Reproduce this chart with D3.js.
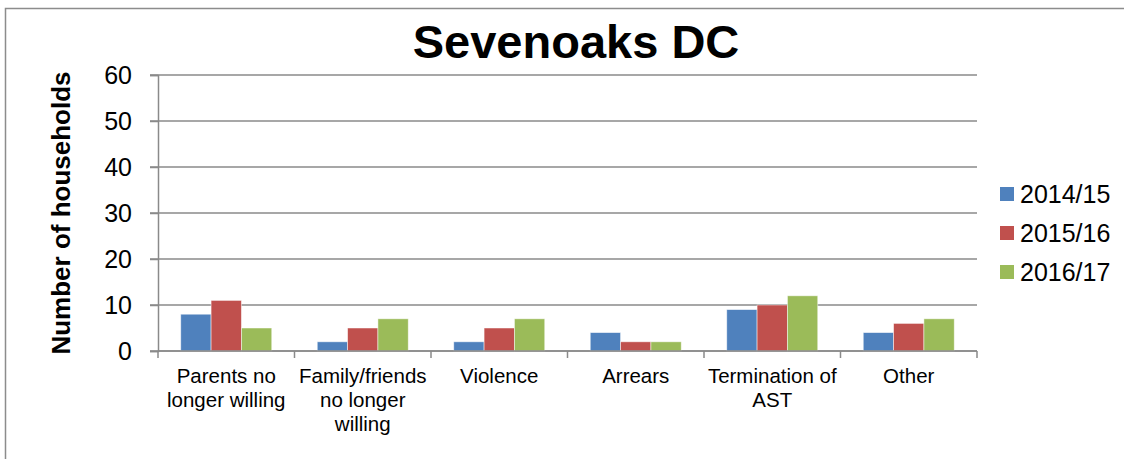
<!DOCTYPE html>
<html>
<head>
<meta charset="utf-8">
<script src="https://cdn.jsdelivr.net/npm/d3@7"></script>
<style>
  body { margin: 0; background: #fff; }
  svg { display: block; font-family: "Liberation Sans", Arial, sans-serif; }
</style>
</head>
<body>
<div id="wrapper"></div>
<script>
const categories = [`Parents no longer willing`, `Family/friends no longer willing`, `Violence`, `Arrears`, `Termination of AST`, `Other`];
const categoryLines = [
  [`Parents no`, `longer willing`],
  [`Family/friends`, `no longer`, `willing`],
  [`Violence`],
  [`Arrears`],
  [`Termination of`, `AST`],
  [`Other`],
];
const seriesNames = [`2014/15`, `2015/16`, `2016/17`];
const values201415 = [8, 2, 2, 4, 9, 4];
const values201516 = [11, 5, 5, 2, 10, 6];
const values201617 = [5, 7, 7, 2, 12, 7];
const yTicks = [0, 10, 20, 30, 40, 50, 60];
const seriesColors = [`#4F81BD`, `#C0504D`, `#9BBB59`];

const seriesValues = [values201415, values201516, values201617];
const rows = categories.map((c, i) => ({
  category: c,
  values: seriesNames.map((s, j) => ({series: s, value: seriesValues[j][i]})),
}));

const W = 1124, H = 459;
const margin = { top: 75, right: 147, bottom: 108, left: 158 };
const width = W - margin.left - margin.right;
const height = H - margin.top - margin.bottom;

const root = d3.select(`#wrapper`)
  .append(`svg`)
  .attr(`width`, W)
  .attr(`height`, H);

// outer chart border (left and top visible, rest cut off)
root.append(`rect`)
  .attr(`x`, 5.5)
  .attr(`y`, 8.5)
  .attr(`width`, W + 20)
  .attr(`height`, H + 20)
  .attr(`fill`, `none`)
  .attr(`stroke`, `#8c8c8c`)
  .attr(`stroke-width`, 1.5);

root.append(`text`)
  .attr(`x`, 576)
  .attr(`y`, 58)
  .attr(`text-anchor`, `middle`)
  .attr(`font-size`, 47)
  .attr(`font-weight`, `bold`)
  .text(`Sevenoaks DC`);

root.append(`text`)
  .attr(`transform`, `translate(70, ${margin.top + height / 2}) rotate(-90)`)
  .attr(`text-anchor`, `middle`)
  .attr(`font-size`, 26)
  .attr(`font-weight`, `bold`)
  .text(`Number of households`);

const svg = root.append(`g`)
  .attr(`transform`, `translate(${margin.left}, ${margin.top})`);

const x0 = d3.scaleBand()
  .domain(categories)
  .range([0, width])
  .paddingInner(0)
  .paddingOuter(0);

const x1 = d3.scaleBand()
  .domain(seriesNames)
  .range([0, x0.bandwidth()])
  .paddingInner(0)
  .paddingOuter(0.75);

const y = d3.scaleLinear()
  .domain([0, 60])
  .range([height, 0]);

const color = d3.scaleOrdinal()
  .domain(seriesNames)
  .range(seriesColors);

// gridlines
svg.append(`g`)
  .selectAll(`line`)
  .data(yTicks)
  .join(`line`)
  .attr(`x1`, -8)
  .attr(`x2`, width)
  .attr(`y1`, d => y(d))
  .attr(`y2`, d => y(d))
  .attr(`stroke`, `#8a8a8a`)
  .attr(`stroke-width`, 1.5);

// y axis
const yAxis = svg.append(`g`)
  .call(d3.axisLeft(y).tickValues(yTicks).tickSize(8).tickPadding(18));
yAxis.select(`.domain`).attr(`stroke`, `#8a8a8a`).attr(`stroke-width`, 1.5);
yAxis.selectAll(`.tick line`).attr(`stroke`, `#8a8a8a`).attr(`stroke-width`, 1.5);
yAxis.selectAll(`.tick text`)
  .attr(`font-size`, 25)
  .attr(`fill`, `#000`)
  .attr(`font-family`, `"Liberation Sans", Arial, sans-serif`);

// bars
svg.append(`g`)
  .selectAll(`g`)
  .data(rows)
  .join(`g`)
  .attr(`transform`, d => `translate(${x0(d.category)}, 0)`)
  .selectAll(`rect`)
  .data(d => d.values)
  .join(`rect`)
  .attr(`x`, d => x1(d.series))
  .attr(`y`, d => y(d.value))
  .attr(`width`, x1.bandwidth())
  .attr(`height`, d => y(0) - y(d.value))
  .attr(`fill`, d => color(d.series))
  .attr(`stroke`, `rgba(255,255,255,0.6)`)
  .attr(`stroke-width`, 0.8);

// x axis
const xAxis = svg.append(`g`)
  .attr(`transform`, `translate(0, ${height})`);
xAxis.append(`line`)
  .attr(`x1`, 0)
  .attr(`x2`, width)
  .attr(`stroke`, `#8a8a8a`)
  .attr(`stroke-width`, 1.5);
const boundaries = categories.map(c => x0(c)).concat([width]);
xAxis.selectAll(`.xtick`)
  .data(boundaries)
  .join(`line`)
  .attr(`class`, `xtick`)
  .attr(`x1`, d => d)
  .attr(`x2`, d => d)
  .attr(`y1`, 0)
  .attr(`y2`, 7)
  .attr(`stroke`, `#8a8a8a`)
  .attr(`stroke-width`, 1.5);

xAxis.selectAll(`.xlabel`)
  .data(categories)
  .join(`text`)
  .attr(`class`, `xlabel`)
  .attr(`text-anchor`, `middle`)
  .attr(`font-size`, 20.5)
  .attr(`transform`, d => `translate(${x0(d) + x0.bandwidth() / 2}, 32)`)
  .selectAll(`tspan`)
  .data((d, i) => categoryLines[i])
  .join(`tspan`)
  .attr(`x`, 0)
  .attr(`y`, (d, i) => i * 24)
  .text(d => d);

// legend
const legend = root.append(`g`)
  .attr(`transform`, `translate(1000, 194)`);
const items = legend.selectAll(`g`)
  .data(seriesNames)
  .join(`g`)
  .attr(`transform`, (d, i) => `translate(0, ${i * 39})`);
items.append(`rect`)
  .attr(`x`, 0)
  .attr(`y`, -7)
  .attr(`width`, 14)
  .attr(`height`, 14)
  .attr(`fill`, d => color(d));
items.append(`text`)
  .attr(`x`, 20)
  .attr(`y`, 9)
  .attr(`font-size`, 25)
  .text(d => d);
</script>
</body>
</html>
